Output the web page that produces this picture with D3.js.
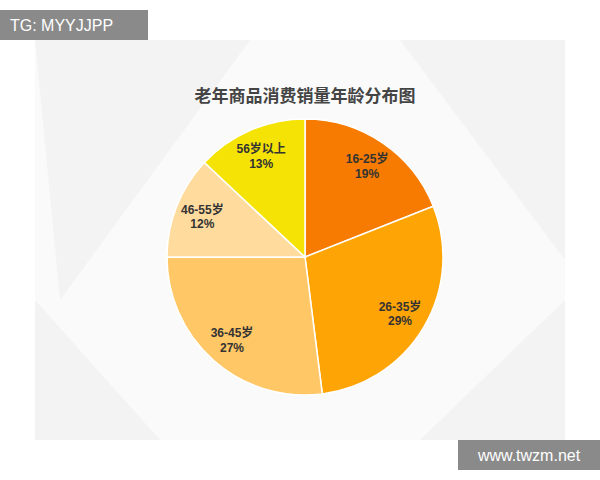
<!DOCTYPE html>
<html>
<head>
<meta charset="utf-8">
<script src="https://cdn.jsdelivr.net/npm/d3@7"></script>
<style>
  body { margin: 0; background: #fff; }
</style>
</head>
<body>
<div id="chart"></div>
<script>
// Chart data
var categories = ["16-25岁", "26-35岁", "36-45岁", "46-55岁", "56岁以上"];
var shares = [19, 29, 27, 12, 13];
var colors = ["#F77B00", "#FFA405", "#FFC766", "#FFDB9E", "#F5E305"];

var svg = d3.select("#chart")
    .append("svg")
    .attr("width", 600)
    .attr("height", 480);

// Panel background with faint polygons
svg.append("rect")
    .attr("x", 35).attr("y", 40)
    .attr("width", 530).attr("height", 400)
    .attr("fill", "#fafafa");
var polys = [
    [[35, 40], [250, 40], [60, 300]],
    [[400, 40], [565, 40], [565, 260]],
    [[35, 300], [160, 440], [35, 440]],
    [[420, 440], [565, 300], [565, 440]]
];
svg.selectAll("polyBg")
    .data(polys)
    .enter()
    .append("polygon")
    .attr("points", d => d.map(p => p.join(",")).join(" "))
    .attr("fill", "#f3f3f3");

// Title
svg.append("text")
    .attr("x", 305).attr("y", 102)
    .attr("text-anchor", "middle")
    .style("font-family", "'Noto Sans CJK SC', sans-serif")
    .style("font-weight", "bold")
    .style("font-size", "17px")
    .style("fill", "#444")
    .text("老年商品消费销量年龄分布图");

// Pie
var cx = 305, cy = 257, r = 138;
var g = svg.append("g").attr("transform", "translate(" + cx + "," + cy + ")");
var data = categories.map((name, i) => ({ name, value: shares[i], color: colors[i] }));
var pie = d3.pie().value(d => d.value).sort(null);
var arc = d3.arc().innerRadius(0).outerRadius(r);
var labelArc = d3.arc().innerRadius(r * 0.8).outerRadius(r * 0.8);

g.selectAll("slice")
    .data(pie(data))
    .enter()
    .append("path")
    .attr("d", arc)
    .attr("fill", d => d.data.color)
    .attr("stroke", "#fff")
    .attr("stroke-width", 1.5);

var labels = g.selectAll("sliceLabel")
    .data(pie(data))
    .enter()
    .append("text")
    .attr("transform", d => "translate(" + labelArc.centroid(d) + ")")
    .attr("text-anchor", "middle")
    .style("font-family", "'Liberation Sans', Arial, 'Noto Sans CJK SC', sans-serif")
    .style("font-weight", "bold")
    .style("font-size", "12px")
    .style("fill", "#333");
labels.append("tspan").attr("x", 0).attr("dy", "-0.2em").text(d => d.data.name);
labels.append("tspan").attr("x", 0).attr("dy", "1.2em").text(d => d.data.value + "%");

// Watermarks
svg.append("rect").attr("x", 0).attr("y", 10).attr("width", 148).attr("height", 30).attr("fill", "#8a8a8a");
svg.append("text").attr("x", 10).attr("y", 31)
    .style("font-family", "'Liberation Sans', Arial, sans-serif")
    .style("font-size", "16px").style("fill", "#fff")
    .text("TG: MYYJJPP");
svg.append("rect").attr("x", 458).attr("y", 440).attr("width", 142).attr("height", 30).attr("fill", "#8a8a8a");
svg.append("text").attr("x", 529).attr("y", 461)
    .attr("text-anchor", "middle")
    .style("font-family", "'Liberation Sans', Arial, sans-serif")
    .style("font-size", "16px").style("fill", "#fff")
    .text("www.twzm.net");
</script>
</body>
</html>
